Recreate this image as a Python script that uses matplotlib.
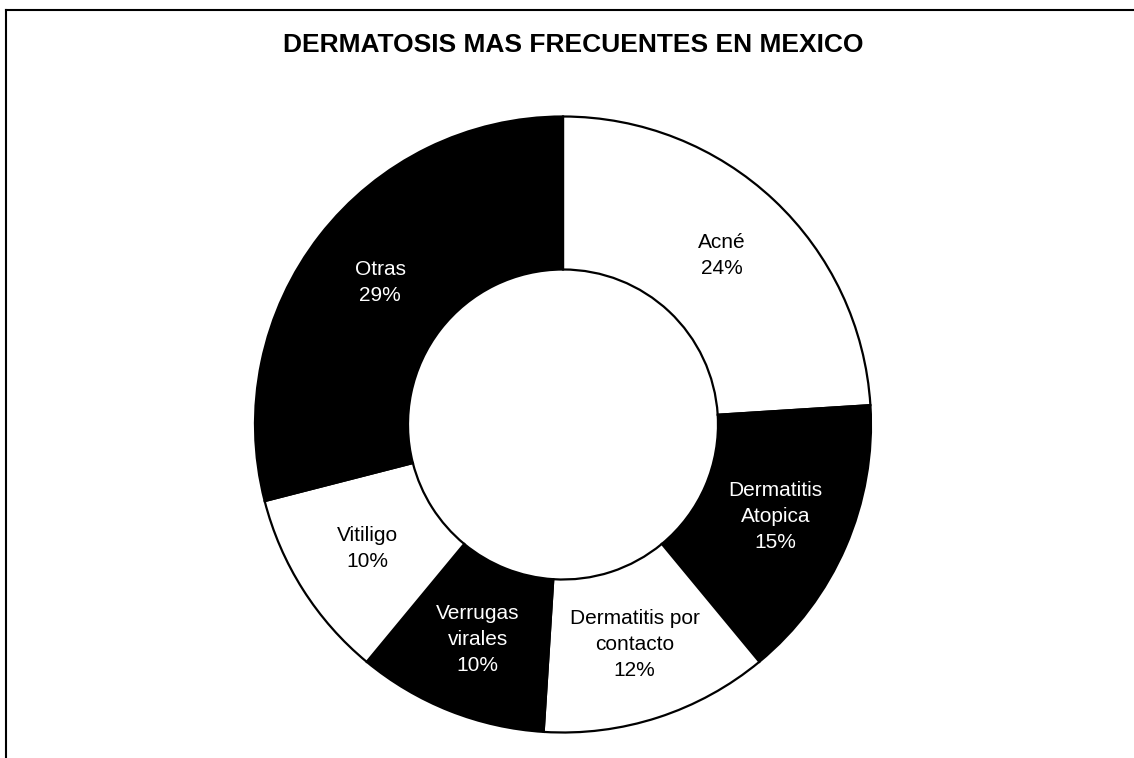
import numpy as np
import matplotlib
matplotlib.use("Agg")
import matplotlib.pyplot as plt
from matplotlib.lines import Line2D

title = "DERMATOSIS MAS FRECUENTES EN MEXICO"
categories = ["Acné", "Dermatitis\nAtopica", "Dermatitis por\ncontacto",
              "Verrugas\nvirales", "Vitiligo", "Otras"]
values = [24, 15, 12, 10, 10, 29]
colors = ["white", "black", "white", "black", "white", "black"]
text_colors = ["black", "white", "black", "white", "black", "white"]

W, H = 1134, 758
fig = plt.figure(figsize=(W / 100, H / 100), dpi=100)
fig.patch.set_facecolor("white")
ax = fig.add_axes([0, 0, 1, 1])
ax.set_xlim(0, W)
ax.set_ylim(0, H)
ax.set_aspect("equal")
ax.axis("off")

cx, cy = 563, H - 424.5
R = 308
r_in = 155
width = R - r_in

wedges, _ = ax.pie(values, colors=colors, startangle=90, counterclock=False,
                   center=(cx, cy), radius=R, frame=True,
                   wedgeprops=dict(width=width, edgecolor="black", linewidth=1.6))
ax.set_xlim(0, W)
ax.set_ylim(0, H)
ax.axis("off")

total = sum(values)
r_lab = (R + r_in) / 2
cum = 0
for cat, v, tc in zip(categories, values, text_colors):
    mid = 90 - (cum + v / 2) / total * 360
    cum += v
    x = cx + r_lab * np.cos(np.radians(mid))
    y = cy + r_lab * np.sin(np.radians(mid))
    ax.text(x, y, f"{cat}\n{v}%", ha="center", va="center", color=tc,
            fontsize=15, family="Liberation Sans", linespacing=1.45)

ax.text(573, H - 45, title, ha="center", va="center", fontsize=19,
        fontweight="bold", family="Liberation Sans")

# frame lines (top and left)
fig.add_artist(Line2D([6 / W, 1], [1 - 10 / H, 1 - 10 / H], transform=fig.transFigure,
                      color="black", linewidth=1.5))
fig.add_artist(Line2D([6 / W, 6 / W], [1 - 10 / H, 0], transform=fig.transFigure,
                      color="black", linewidth=1.5))

fig.savefig("out.png", dpi=100, facecolor="white")
